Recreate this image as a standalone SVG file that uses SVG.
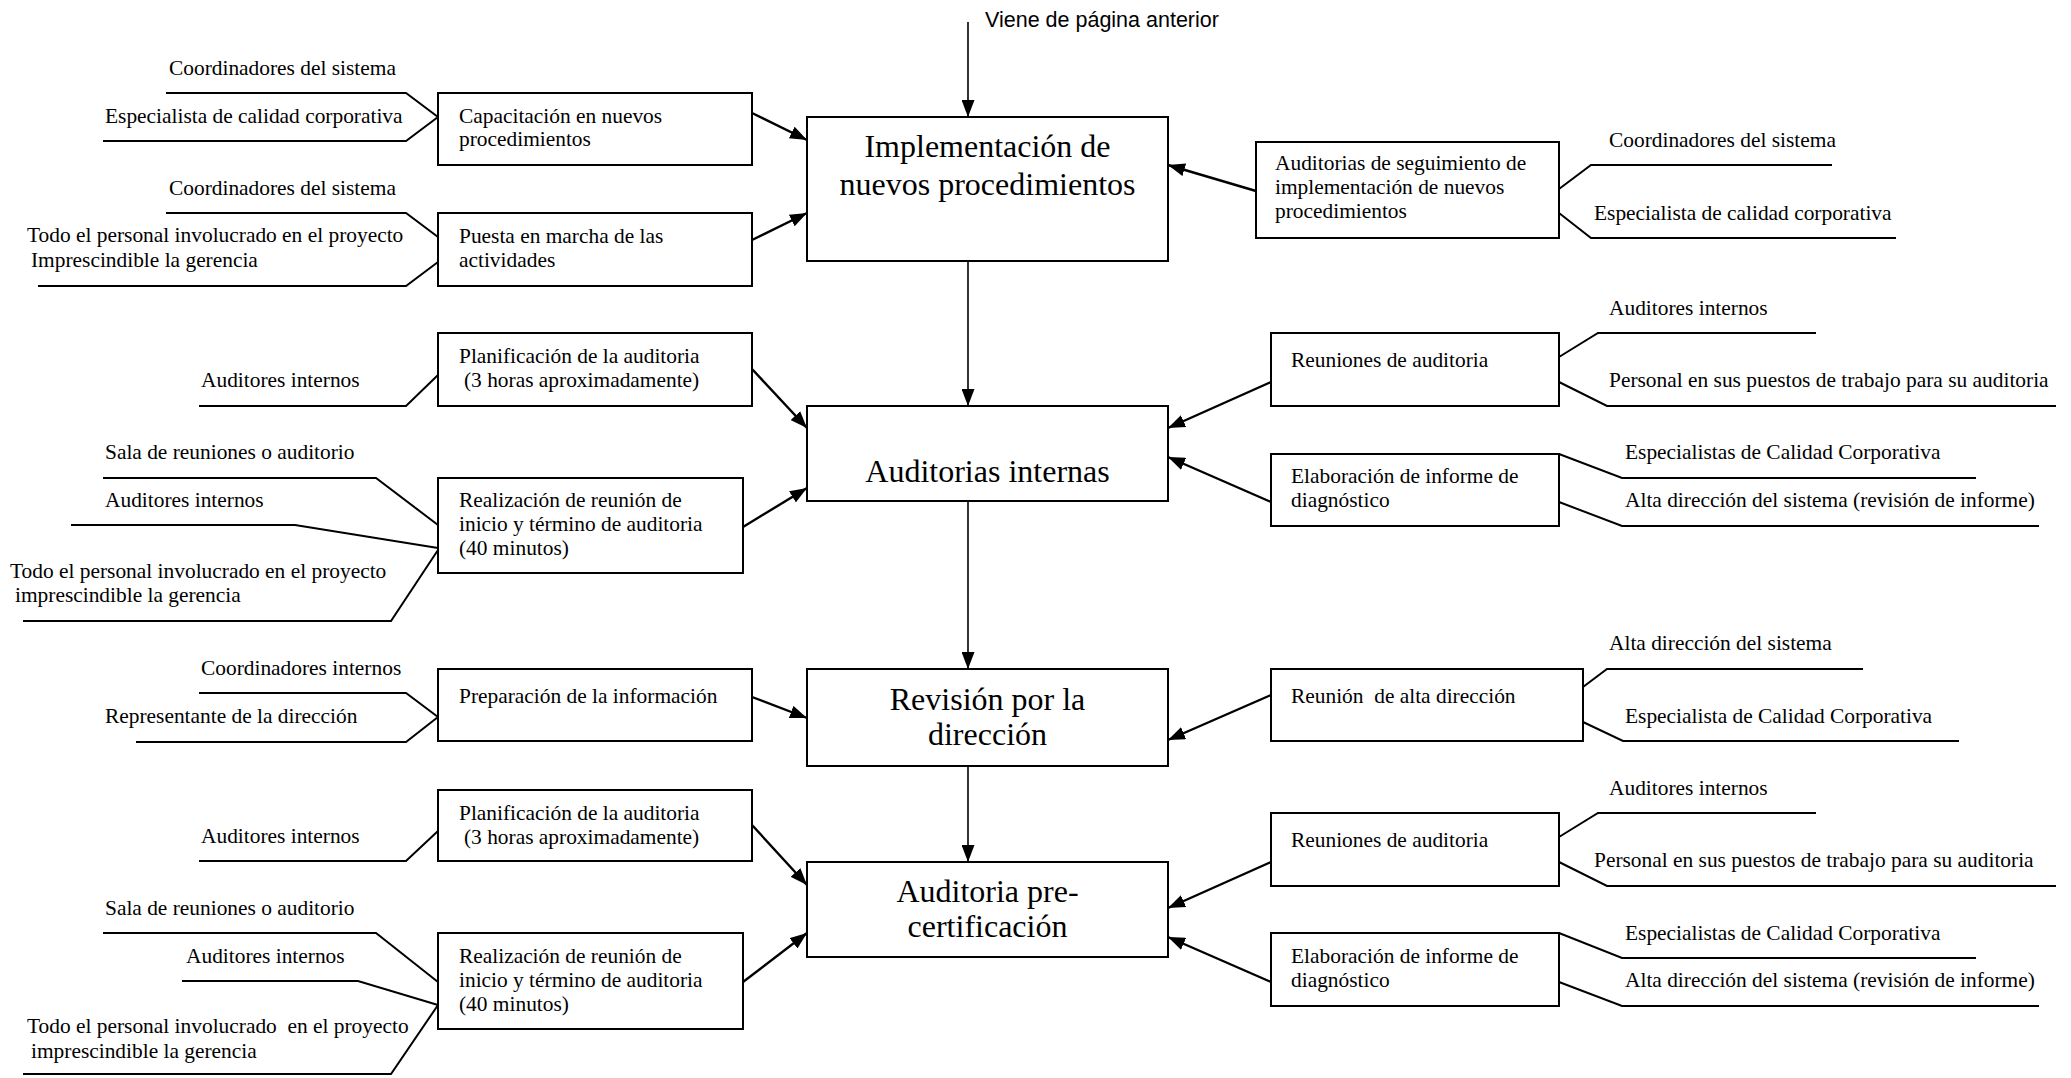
<svg xmlns="http://www.w3.org/2000/svg" width="2071" height="1078" viewBox="0 0 2071 1078">
  <defs>
    <marker id="arrow" markerUnits="userSpaceOnUse" markerWidth="18" markerHeight="13" refX="17" refY="6.5" orient="auto">
      <path d="M0,0 L17,6.5 L0,13 z" fill="#000"/>
    </marker>
    <style>
      .main { fill: #fff; stroke: #000; stroke-width: 2; }
      .box { fill: #fff; stroke: #000; stroke-width: 2; }
      .lead { fill: none; stroke: #000; stroke-width: 2; }
      .flow { fill: none; stroke: #000; stroke-width: 2.4; marker-end: url(#arrow); }
      .spine { fill: none; stroke: #000; stroke-width: 1.6; marker-end: url(#arrow); }
      text { font-family: "Liberation Serif", "Times New Roman", serif; fill: #000; white-space: pre; }
      .t { font-size: 21.4px; }
      .big { font-size: 32px; text-anchor: middle; }
      .sans { font-family: "Liberation Sans", Arial, sans-serif; font-size: 21.5px; }
    </style>
  </defs>

  <rect width="2071" height="1078" fill="#fff"/>

  <!-- connectors: main flow and activity arrows -->
  <g id="connectors">
    <path class="spine" d="M968 22 V117"/>
    <path class="spine" d="M968 261 V406"/>
    <path class="spine" d="M968 501 V669"/>
    <path class="spine" d="M968 766 V862"/>

    <path class="flow" d="M752 113 L807 140"/>
    <path class="flow" d="M752 240 L807 213"/>
    <path class="flow" d="M1256 191 L1168 165"/>

    <path class="flow" d="M752 369 L807 428"/>
    <path class="flow" d="M743 527 L807 488"/>
    <path class="flow" d="M1271 382 L1168 428"/>
    <path class="flow" d="M1271 502 L1168 457"/>

    <path class="flow" d="M752 697 L807 718"/>
    <path class="flow" d="M1271 695 L1168 740"/>

    <path class="flow" d="M752 825 L807 885"/>
    <path class="flow" d="M743 982 L807 933"/>
    <path class="flow" d="M1271 862 L1168 908"/>
    <path class="flow" d="M1271 982 L1168 937"/>
  </g>

  <text class="sans" x="985" y="27">Viene de página anterior</text>

  <!-- main stages -->
  <g id="stage-implementacion">
    <rect class="main" x="807" y="117" width="361" height="144"/>
    <text class="big" x="987.5" y="157">Implementación de</text>
    <text class="big" x="987.5" y="195">nuevos procedimientos</text>
  </g>
  <g id="stage-auditorias-internas">
    <rect class="main" x="807" y="406" width="361" height="95"/>
    <text class="big" x="987.5" y="482">Auditorias internas</text>
  </g>
  <g id="stage-revision">
    <rect class="main" x="807" y="669" width="361" height="97"/>
    <text class="big" x="987.5" y="710">Revisión por la</text>
    <text class="big" x="987.5" y="745">dirección</text>
  </g>
  <g id="stage-precertificacion">
    <rect class="main" x="807" y="862" width="361" height="95"/>
    <text class="big" x="987.5" y="902">Auditoria pre-</text>
    <text class="big" x="987.5" y="937">certificación</text>
  </g>

  <!-- stage 1 activities -->
  <g id="act-capacitacion">
    <rect class="box" x="438" y="93" width="314" height="72"/>
    <text class="t" x="459" y="123">Capacitación en nuevos</text>
    <text class="t" x="459" y="146">procedimientos</text>
    <path class="lead" d="M166 93 H406 L438 117 M103 141 H406 L438 117"/>
    <text class="t" x="169" y="75">Coordinadores del sistema</text>
    <text class="t" x="105" y="123">Especialista de calidad corporativa</text>
  </g>
  <g id="act-puesta-en-marcha">
    <rect class="box" x="438" y="213" width="314" height="73"/>
    <text class="t" x="459" y="243">Puesta en marcha de las</text>
    <text class="t" x="459" y="267">actividades</text>
    <path class="lead" d="M166 213 H406 L438 237 M38 286 H406 L438 262"/>
    <text class="t" x="169" y="195">Coordinadores del sistema</text>
    <text class="t" x="27" y="242">Todo el personal involucrado en el proyecto</text>
    <text class="t" x="31" y="267">Imprescindible la gerencia</text>
  </g>
  <g id="act-seguimiento">
    <rect class="box" x="1256" y="142" width="303" height="96"/>
    <text class="t" x="1275" y="170">Auditorias de seguimiento de</text>
    <text class="t" x="1275" y="194">implementación de nuevos</text>
    <text class="t" x="1275" y="218">procedimientos</text>
    <path class="lead" d="M1559 189 L1591 165 H1832 M1559 213 L1591 238 H1896"/>
    <text class="t" x="1609" y="147">Coordinadores del sistema</text>
    <text class="t" x="1594" y="220">Especialista de calidad corporativa</text>
  </g>

  <!-- stage 2 activities -->
  <g id="act-planificacion-1">
    <rect class="box" x="438" y="333" width="314" height="73"/>
    <text class="t" x="459" y="363">Planificación de la auditoria</text>
    <text class="t" x="464" y="387">(3 horas aproximadamente)</text>
    <path class="lead" d="M199 406 H406 L438 375"/>
    <text class="t" x="201" y="387">Auditores internos</text>
  </g>
  <g id="act-reunion-1">
    <rect class="box" x="438" y="478" width="305" height="95"/>
    <text class="t" x="459" y="507">Realización de reunión de</text>
    <text class="t" x="459" y="531">inicio y término de auditoria</text>
    <text class="t" x="459" y="555">(40 minutos)</text>
    <path class="lead" d="M103 478 H376 L438 525 M71 525 H295 L438 548 M23 621 H391 L438 550"/>
    <text class="t" x="105" y="459">Sala de reuniones o auditorio</text>
    <text class="t" x="105" y="507">Auditores internos</text>
    <text class="t" x="10" y="578">Todo el personal involucrado en el proyecto</text>
    <text class="t" x="15" y="602">imprescindible la gerencia</text>
  </g>
  <g id="act-reuniones-1">
    <rect class="box" x="1271" y="333" width="288" height="73"/>
    <text class="t" x="1291" y="367">Reuniones de auditoria</text>
    <path class="lead" d="M1559 357 L1598 333 H1816 M1559 382 L1607 406 H2056"/>
    <text class="t" x="1609" y="315">Auditores internos</text>
    <text class="t" x="1609" y="387">Personal en sus puestos de trabajo para su auditoria</text>
  </g>
  <g id="act-informe-1">
    <rect class="box" x="1271" y="454" width="288" height="72"/>
    <text class="t" x="1291" y="483">Elaboración de informe de</text>
    <text class="t" x="1291" y="507">diagnóstico</text>
    <path class="lead" d="M1559 454 L1622 478 H1976 M1559 502 L1622 526 H2039"/>
    <text class="t" x="1625" y="459">Especialistas de Calidad Corporativa</text>
    <text class="t" x="1625" y="507">Alta dirección del sistema (revisión de informe)</text>
  </g>

  <!-- stage 3 activities -->
  <g id="act-preparacion">
    <rect class="box" x="438" y="669" width="314" height="72"/>
    <text class="t" x="459" y="703">Preparación de la información</text>
    <path class="lead" d="M199 693 H406 L438 717 M136 742 H406 L438 717"/>
    <text class="t" x="201" y="675">Coordinadores internos</text>
    <text class="t" x="105" y="723">Representante de la dirección</text>
  </g>
  <g id="act-reunion-alta">
    <rect class="box" x="1271" y="669" width="312" height="72"/>
    <text class="t" x="1291" y="703">Reunión  de alta dirección</text>
    <path class="lead" d="M1583 687 L1607 669 H1863 M1583 722 L1623 741 H1959"/>
    <text class="t" x="1609" y="650">Alta dirección del sistema</text>
    <text class="t" x="1625" y="723">Especialista de Calidad Corporativa</text>
  </g>

  <!-- stage 4 activities -->
  <g id="act-planificacion-2">
    <rect class="box" x="438" y="790" width="314" height="71"/>
    <text class="t" x="459" y="820">Planificación de la auditoria</text>
    <text class="t" x="464" y="844">(3 horas aproximadamente)</text>
    <path class="lead" d="M199 861 H406 L438 831"/>
    <text class="t" x="201" y="843">Auditores internos</text>
  </g>
  <g id="act-reunion-2">
    <rect class="box" x="438" y="933" width="305" height="96"/>
    <text class="t" x="459" y="963">Realización de reunión de</text>
    <text class="t" x="459" y="987">inicio y término de auditoria</text>
    <text class="t" x="459" y="1011">(40 minutos)</text>
    <path class="lead" d="M103 933 H376 L438 982 M182 981 H358 L438 1005 M23 1074 H391 L438 1005"/>
    <text class="t" x="105" y="915">Sala de reuniones o auditorio</text>
    <text class="t" x="186" y="963">Auditores internos</text>
    <text class="t" x="27" y="1033">Todo el personal involucrado  en el proyecto</text>
    <text class="t" x="31" y="1058">imprescindible la gerencia</text>
  </g>
  <g id="act-reuniones-2">
    <rect class="box" x="1271" y="813" width="288" height="73"/>
    <text class="t" x="1291" y="847">Reuniones de auditoria</text>
    <path class="lead" d="M1559 837 L1598 813 H1816 M1559 862 L1607 886 H2056"/>
    <text class="t" x="1609" y="795">Auditores internos</text>
    <text class="t" x="1594" y="867">Personal en sus puestos de trabajo para su auditoria</text>
  </g>
  <g id="act-informe-2">
    <rect class="box" x="1271" y="933" width="288" height="73"/>
    <text class="t" x="1291" y="963">Elaboración de informe de</text>
    <text class="t" x="1291" y="987">diagnóstico</text>
    <path class="lead" d="M1559 933 L1622 958 H1976 M1559 982 L1622 1006 H2039"/>
    <text class="t" x="1625" y="940">Especialistas de Calidad Corporativa</text>
    <text class="t" x="1625" y="987">Alta dirección del sistema (revisión de informe)</text>
  </g>
</svg>
